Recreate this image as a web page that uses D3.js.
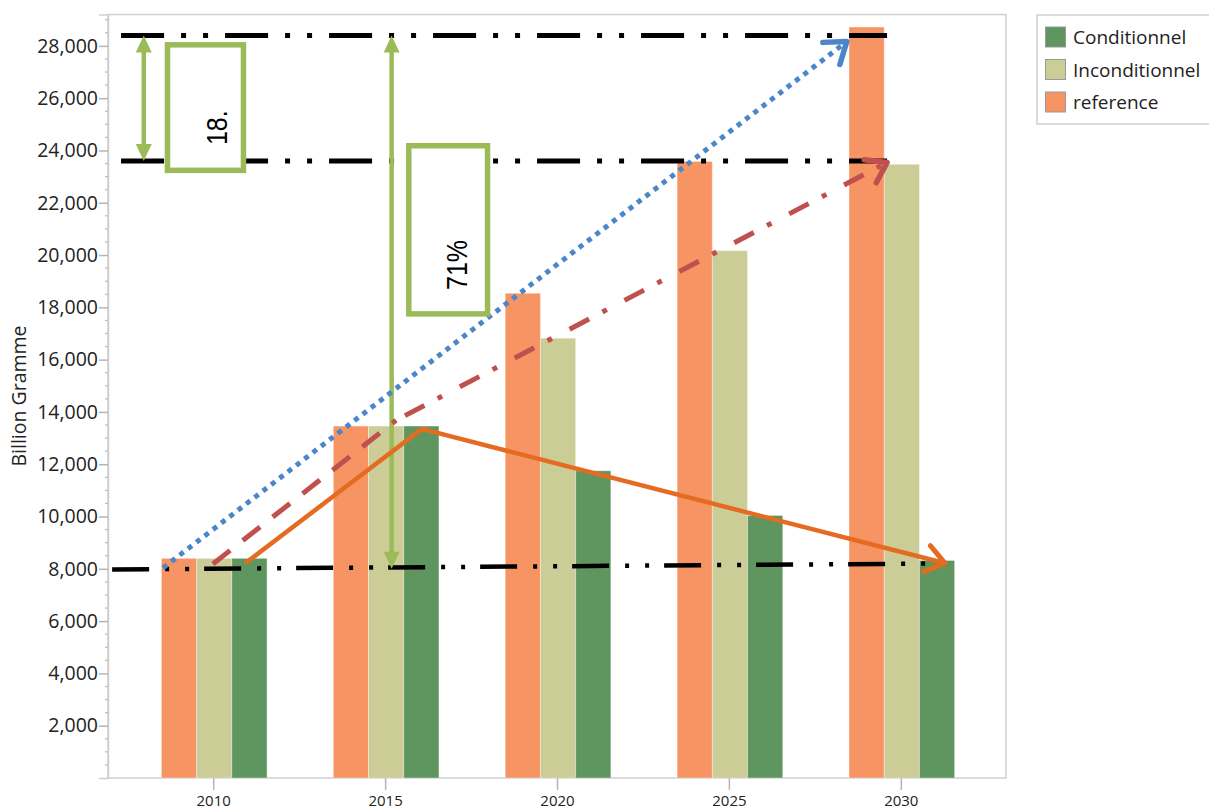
<!DOCTYPE html>
<html><head><meta charset="utf-8">
<script src="https://cdn.jsdelivr.net/npm/d3@7"></script>
<style>
body{margin:0;background:#fff;}
svg{display:block;font-family:"Open Sans",sans-serif;}
</style>
</head><body>
<svg id="c" width="1209" height="810"></svg>
<script>
// ---------- data ----------
const years = [2010, 2015, 2020, 2025, 2030];
const seriesKeys = ["reference", "Inconditionnel", "Conditionnel"];
const reference      = [8400, 13460, 18540, 23580, 28720];
const inconditionnel = [8400, 13460, 16820, 20170, 23470];
const conditionnel   = [8400, 13460, 11750, 10040, 8320];
const yTickValues = [2000, 4000, 6000, 8000, 10000, 12000, 14000, 16000, 18000, 20000, 22000, 24000, 26000, 28000];
const xTickValues = [2010, 2015, 2020, 2025, 2030];
const legendLabels = ["Conditionnel", "Inconditionnel", "reference"];
const colors = {reference: "#F79464", Inconditionnel: "#CCCC96", Conditionnel: "#5F965F"};
const yLabel = "Billion Gramme";

// annotation geometry, in data units (year, value)
const refLineTop    = [[2007.32, 28400], [2029.6, 28400]];
const refLineMid    = [[2007.32, 23600], [2029.6, 23600]];
const refLineBottom = [[2007.06, 7976], [2031.32, 8206]];
const spanArrowSmall = [[2007.98, 28400], [2007.98, 23600]];
const spanArrowLarge = [[2015.19, 28400], [2015.19, 8000]];
const boxSmall = [[2008.67, 28040], [2010.88, 23240]];
const boxLarge = [[2015.69, 24180], [2017.98, 17750]];
const labelSmall = {x: 2010.12, y: 24870, text: "18."};
const labelLarge = {x: 2017.1, y: 19620, text: "71%"};
const blueArrow   = [[2008.54, 8034], [2028.43, 28167]];
const redArrowA   = [[2009.99, 8187], [2015.32, 13680]];
const redArrowB   = [[2015.32, 13680], [2029.6, 23540]];
const orangeArrow = [[2010.93, 8212], [2016.07, 13350], [2031.29, 8212]];

// ---------- layout ----------
const plot = {left: 108, right: 1006, top: 14.5, bottom: 778};
const svg = d3.select("#c");

const x = d3.scaleLinear().domain([2006.94, 2033.06]).range([plot.left, plot.right]);
const y = d3.scaleLinear().domain([0, 29200]).range([plot.bottom, plot.top]);
const barW = 1.024; // years

const table = years.map((yr, i) => ({year: yr, reference: reference[i], Inconditionnel: inconditionnel[i], Conditionnel: conditionnel[i]}));

// frame
svg.append("rect").attr("x", plot.left).attr("y", plot.top)
  .attr("width", plot.right - plot.left).attr("height", plot.bottom - plot.top)
  .attr("fill", "none").attr("stroke", "#cfcfcf").attr("stroke-width", 1.5);

// bars
const g = svg.append("g");
table.forEach(d => {
  seriesKeys.forEach((k, j) => {
    const x0 = d.year - 1.5 * barW + j * barW + 0.03;
    g.append("rect")
      .attr("x", x(x0)).attr("width", x(x0 + barW) - x(x0))
      .attr("y", y(d[k])).attr("height", y(0) - y(d[k]))
      .attr("fill", colors[k])
      .attr("stroke", "rgba(255,255,255,0.35)").attr("stroke-width", 1);
  });
});

// y axis
const yAxis = d3.axisLeft(y).tickValues(yTickValues).tickSize(9).tickPadding(1)
  .tickFormat(d3.format(","));
const ya = svg.append("g").attr("transform", `translate(${plot.left},0)`).call(yAxis);
ya.select(".domain").attr("stroke", "#cfcfcf").attr("stroke-width", 1.5);
ya.selectAll(".tick line").attr("stroke", "#b5b5b5").attr("stroke-width", 1.5);
ya.selectAll("text").attr("font-size", 19.5).attr("fill", "#222").attr("font-family", "Open Sans");
// minor ticks
const minor = d3.range(500, 29200, 500).filter(v => v % 2000 !== 0);
svg.append("g").selectAll("line").data(minor).join("line")
  .attr("x1", plot.left - 3).attr("x2", plot.left)
  .attr("y1", d => y(d)).attr("y2", d => y(d))
  .attr("stroke", "#bdbdbd").attr("stroke-width", 1.2);

// x axis
const xAxis = d3.axisBottom(x).tickValues(xTickValues).tickSize(12).tickPadding(5).tickFormat(d3.format("d"));
const xa = svg.append("g").attr("transform", `translate(0,${plot.bottom})`).call(xAxis);
xa.select(".domain").remove();
xa.selectAll(".tick line").attr("stroke", "#b5b5b5").attr("stroke-width", 1.5);
xa.selectAll("text").attr("font-size", 15).attr("fill", "#222").attr("font-family", "Open Sans");

// y label
svg.append("text").attr("transform", `translate(26,396) rotate(-90)`)
  .attr("text-anchor", "middle").attr("font-size", 19.5).attr("fill", "#222")
  .text(yLabel);

// ---------- annotations ----------
const line = d3.line().x(d => x(d[0])).y(d => y(d[1]));
const ann = svg.append("g");

function dashLine(pts, dash, width) {
  ann.append("path").attr("d", line(pts)).attr("fill", "none")
    .attr("stroke", "#000").attr("stroke-width", width).attr("stroke-dasharray", dash);
}
dashLine(refLineTop, "43,17,5,17,5,17", 5);
dashLine(refLineMid, "43,17,5,17,5,17", 5);
dashLine(refLineBottom, "37,16,4,16,4,15", 4.5);

function openHead(from, tip, color, len, ang, width) {
  const px = x(tip[0]), py = y(tip[1]);
  const fx = x(from[0]), fy = y(from[1]);
  const a = Math.atan2(py - fy, px - fx);
  const p1 = [px - len * Math.cos(a - ang), py - len * Math.sin(a - ang)];
  const p2 = [px - len * Math.cos(a + ang), py - len * Math.sin(a + ang)];
  ann.append("path").attr("d", `M${p1[0]},${p1[1]}L${px},${py}L${p2[0]},${p2[1]}`)
    .attr("fill", "none").attr("stroke", color).attr("stroke-width", width)
    .attr("stroke-linecap", "round").attr("stroke-linejoin", "round");
}

// green span arrows
function spanArrow(pts) {
  const gx = x(pts[0][0]);
  const yA = y(pts[0][1]), yB = y(pts[1][1]);
  const hl = 17, hw = 8;
  const col = "#9BBB59";
  ann.append("line").attr("x1", gx).attr("x2", gx).attr("y1", yA + hl - 2).attr("y2", yB - hl + 2)
    .attr("stroke", col).attr("stroke-width", 4.5);
  ann.append("path").attr("d", `M${gx},${yA}L${gx - hw},${yA + hl}L${gx + hw},${yA + hl}Z`).attr("fill", col);
  ann.append("path").attr("d", `M${gx},${yB}L${gx - hw},${yB - hl}L${gx + hw},${yB - hl}Z`).attr("fill", col);
}
spanArrow(spanArrowSmall);
spanArrow(spanArrowLarge);

// blue dotted arrow
ann.append("path").attr("d", line(blueArrow)).attr("fill", "none")
  .attr("stroke", "#4A86C9").attr("stroke-width", 5).attr("stroke-dasharray", "5,5.5");
openHead(blueArrow[0], blueArrow[1], "#4A86C9", 24, 0.62, 5.5);

// red dashed / dash-dot arrow
ann.append("path").attr("d", line(redArrowA)).attr("fill", "none")
  .attr("stroke", "#C0504D").attr("stroke-width", 5).attr("stroke-dasharray", "22,16");
ann.append("path").attr("d", line(redArrowB)).attr("fill", "none")
  .attr("stroke", "#C0504D").attr("stroke-width", 5).attr("stroke-dasharray", "0,10,22,15,5,10");
openHead(redArrowB[0], redArrowB[1], "#C0504D", 23, 0.6, 5.5);

// orange solid arrow
ann.append("path").attr("d", line(orangeArrow)).attr("fill", "none")
  .attr("stroke", "#E46C22").attr("stroke-width", 4.5).attr("stroke-linejoin", "miter");
openHead(orangeArrow[1], orangeArrow[2], "#E46C22", 23, 0.62, 5);

// green boxes with labels
function box(b, lab) {
  const x0 = x(b[0][0]), x1 = x(b[1][0]), y0 = y(b[0][1]), y1 = y(b[1][1]);
  ann.append("rect").attr("x", x0).attr("y", y0).attr("width", x1 - x0).attr("height", y1 - y0)
    .attr("fill", "#fff").attr("stroke", "#9BBB59").attr("stroke-width", 5.5);
  ann.append("text")
    .attr("transform", `translate(${x(lab.x)},${y(lab.y)}) rotate(-90) scale(1,1.15)`)
    .attr("text-anchor", "middle").attr("dominant-baseline", "central")
    .attr("font-family", "Liberation Sans, Arial, sans-serif")
    .attr("font-size", 25).attr("fill", "#000").text(lab.text);
}
box(boxSmall, labelSmall);
box(boxLarge, labelLarge);

// legend
const lg = svg.append("g");
lg.append("rect").attr("x", 1037).attr("y", 15).attr("width", 190).attr("height", 109)
  .attr("fill", "#fff").attr("stroke", "#cfcfcf").attr("stroke-width", 1.5);
legendLabels.forEach((lab, i) => {
  const yy = 27 + i * 32.5;
  lg.append("rect").attr("x", 1045.5).attr("y", yy).attr("width", 20).attr("height", 20)
    .attr("fill", colors[lab]).attr("stroke", "#999").attr("stroke-width", 1);
  lg.append("text").attr("x", 1073).attr("y", yy + 10).attr("dominant-baseline", "central")
    .attr("font-size", 19).attr("fill", "#222").text(lab);
});
</script>
</body></html>
